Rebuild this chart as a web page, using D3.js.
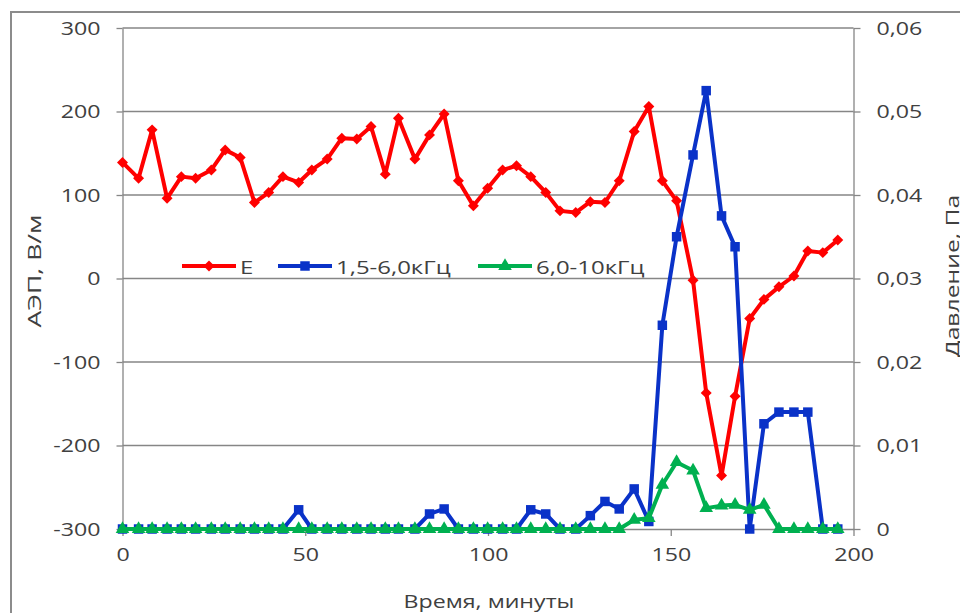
<!DOCTYPE html>
<html>
<head>
<meta charset="utf-8">
<script src="https://cdn.jsdelivr.net/npm/d3@7"></script>
<style>
  body { margin: 0; background: #fff; }
  text { font-family: "Open Sans", sans-serif; fill: #404040; }
</style>
</head>
<body>
<svg id="chart" width="960" height="613"></svg>
<script>
// time of each sample, minutes
const times = [0, 4.4, 8.1, 12.2, 16.1, 20, 24.3, 28.1, 32.2, 36.1, 40, 43.9, 48.2, 51.8, 56, 60,
  64.1, 68, 71.9, 75.5, 80, 84, 88, 91.9, 96, 99.9, 104, 107.8, 111.7, 115.8, 119.7, 124, 128, 132,
  135.9, 140, 144, 147.7, 151.6, 156.1, 159.7, 163.9, 167.6, 171.6, 175.5, 179.6, 183.7, 187.5, 191.6, 195.7];

// E, V/m (left axis)
const eField = [139, 120, 178, 96, 122, 120, 130, 154, 145, 91, 103, 122, 115, 130, 143, 168,
  167, 182, 125, 192, 143, 172, 197, 117, 87, 108, 130, 135, 122, 103, 81, 79, 92, 91,
  117, 176, 206, 117, 93, -2, -137, -236, -141, -48, -25, -10, 3, 33, 31, 46];

// pressure, Pa (right axis)
const band1 = [0, 0, 0, 0, 0, 0, 0, 0, 0, 0, 0, 0, 0.0023, 0, 0, 0,
  0, 0, 0, 0, 0, 0.0018, 0.0024, 0, 0, 0, 0, 0, 0.0023, 0.0018, 0, 0, 0.0016, 0.0033,
  0.0024, 0.0048, 0.0009, 0.0244, 0.035, 0.0448, 0.0525, 0.0375, 0.0338, 0, 0.0126, 0.014, 0.014, 0.014, 0, 0];

const band2 = [0, 0, 0, 0, 0, 0, 0, 0, 0, 0, 0, 0, 0, 0, 0, 0,
  0, 0, 0, 0, 0, 0, 0, 0, 0, 0, 0, 0, 0, 0, 0, 0, 0, 0,
  0, 0.0011, 0.0013, 0.0053, 0.008, 0.007, 0.0025, 0.0028, 0.0029, 0.0023, 0.0029, 0, 0, 0, 0, 0];

const seriesNames = ["E", "1,5-6,0кГц", "6,0-10кГц"];
const leftTicks = [-300, -200, -100, 0, 100, 200, 300];
const rightTicks = [0, 0.01, 0.02, 0.03, 0.04, 0.05, 0.06];
const xTicks = [0, 50, 100, 150, 200];

const svg = d3.select("#chart");
const plotL = 122.5, plotR = 853.5, plotT = 28, plotB = 529;
const stretchK = 1.22; // reference text is drawn wider than Open Sans

const x = d3.scaleLinear().domain([0, 200]).range([plotL, plotR]);
const yL = d3.scaleLinear().domain([-300, 300]).range([plotB, plotT]);
const yR = d3.scaleLinear().domain([0, 0.06]).range([plotB, plotT]);

const fmtR = d => d === 0 ? "0" : d3.format(".2f")(d).replace(".", ",");

// widen text horizontally without moving its anchor
function stretch(sel, k) {
  sel.each(function () {
    const w = this.getComputedTextLength();
    d3.select(this).attr("textLength", w * k).attr("lengthAdjust", "spacingAndGlyphs");
  });
}

// outer chart frame
svg.append("rect")
  .attr("x", 11).attr("y", 12)
  .attr("width", 1000).attr("height", 700)
  .attr("fill", "none").attr("stroke", "#8c8c8c").attr("stroke-width", 2);

// grid lines
svg.append("g")
  .selectAll("line")
  .data(leftTicks.filter(d => d !== -300))
  .enter().append("line")
  .attr("x1", plotL).attr("x2", plotR)
  .attr("y1", d => yL(d)).attr("y2", d => yL(d))
  .attr("stroke", "#868686").attr("stroke-width", 1.3);

// axes
const axisStyle = g => {
  g.select(".domain").attr("stroke", "#868686").attr("stroke-width", 1.3);
  g.selectAll(".tick line").attr("stroke", "#868686").attr("stroke-width", 1.3);
  g.selectAll(".tick text").attr("font-size", 19).attr("fill", "#404040")
    .attr("font-family", "'Open Sans', sans-serif")
    .call(stretch, stretchK);
};

svg.append("g")
  .attr("transform", `translate(${plotL},0)`)
  .call(d3.axisLeft(yL).tickValues(leftTicks).tickFormat(d => String(d))
    .tickSize(6).tickPadding(16).tickSizeOuter(0))
  .call(axisStyle);

svg.append("g")
  .attr("transform", `translate(${plotR},0)`)
  .call(d3.axisRight(yR).tickValues(rightTicks).tickFormat(fmtR)
    .tickSize(7).tickPadding(16).tickSizeOuter(0))
  .call(axisStyle);

svg.append("g")
  .attr("transform", `translate(0,${plotB})`)
  .call(d3.axisBottom(x).tickValues(xTicks).tickFormat(d => String(d))
    .tickSize(7).tickPadding(12).tickSizeOuter(0))
  .call(axisStyle);

// axis titles
svg.append("text")
  .attr("transform", `translate(41,271) rotate(-90)`)
  .attr("text-anchor", "middle").attr("font-size", 19)
  .text("АЭП, В/м")
  .call(stretch, 1.4);

svg.append("text")
  .attr("transform", `translate(959,276) rotate(-90)`)
  .attr("text-anchor", "middle").attr("font-size", 19)
  .text("Давление, Па")
  .call(stretch, 1.3);

svg.append("text")
  .attr("x", 489).attr("y", 608)
  .attr("text-anchor", "middle").attr("font-size", 19)
  .text("Время, минуты")
  .call(stretch, stretchK);

// series
const series = [
  { name: seriesNames[0], values: eField, y: yL, color: "#ff0000", symbol: d3.symbolSquare, rot: 45, size: 60 },
  { name: seriesNames[1], values: band1, y: yR, color: "#0a32c8", symbol: d3.symbolSquare, rot: 0, size: 90 },
  { name: seriesNames[2], values: band2, y: yR, color: "#00b050", symbol: d3.symbolTriangle, rot: 0, size: 80 }
];

series.forEach(s => {
  const pts = times.map((t, i) => [t, s.values[i]]);
  const line = d3.line().x(d => x(d[0])).y(d => s.y(d[1]));

  svg.append("path")
    .datum(pts)
    .attr("d", line)
    .attr("fill", "none")
    .attr("stroke", s.color)
    .attr("stroke-width", 4)
    .attr("stroke-linejoin", "round");

  svg.append("g")
    .selectAll("path")
    .data(pts)
    .enter().append("path")
    .attr("d", d3.symbol().type(s.symbol).size(s.size))
    .attr("transform", d => `translate(${x(d[0])},${s.y(d[1])}) rotate(${s.rot})`)
    .attr("fill", s.color);
});

// legend
const legendX = [182, 278, 478];
const legend = svg.append("g")
  .selectAll("g")
  .data(series)
  .enter().append("g")
  .attr("transform", (d, i) => `translate(${legendX[i]},266)`);

legend.append("line")
  .attr("x1", 0).attr("x2", 54)
  .attr("stroke", d => d.color).attr("stroke-width", 4);

legend.append("path")
  .attr("d", d => d3.symbol().type(d.symbol).size(d.size)())
  .attr("transform", d => `translate(27,0) rotate(${d.rot})`)
  .attr("fill", d => d.color);

legend.append("text")
  .attr("x", 58).attr("y", 8)
  .attr("font-size", 19)
  .text(d => d.name)
  .call(stretch, 1.26);
</script>
</body>
</html>
